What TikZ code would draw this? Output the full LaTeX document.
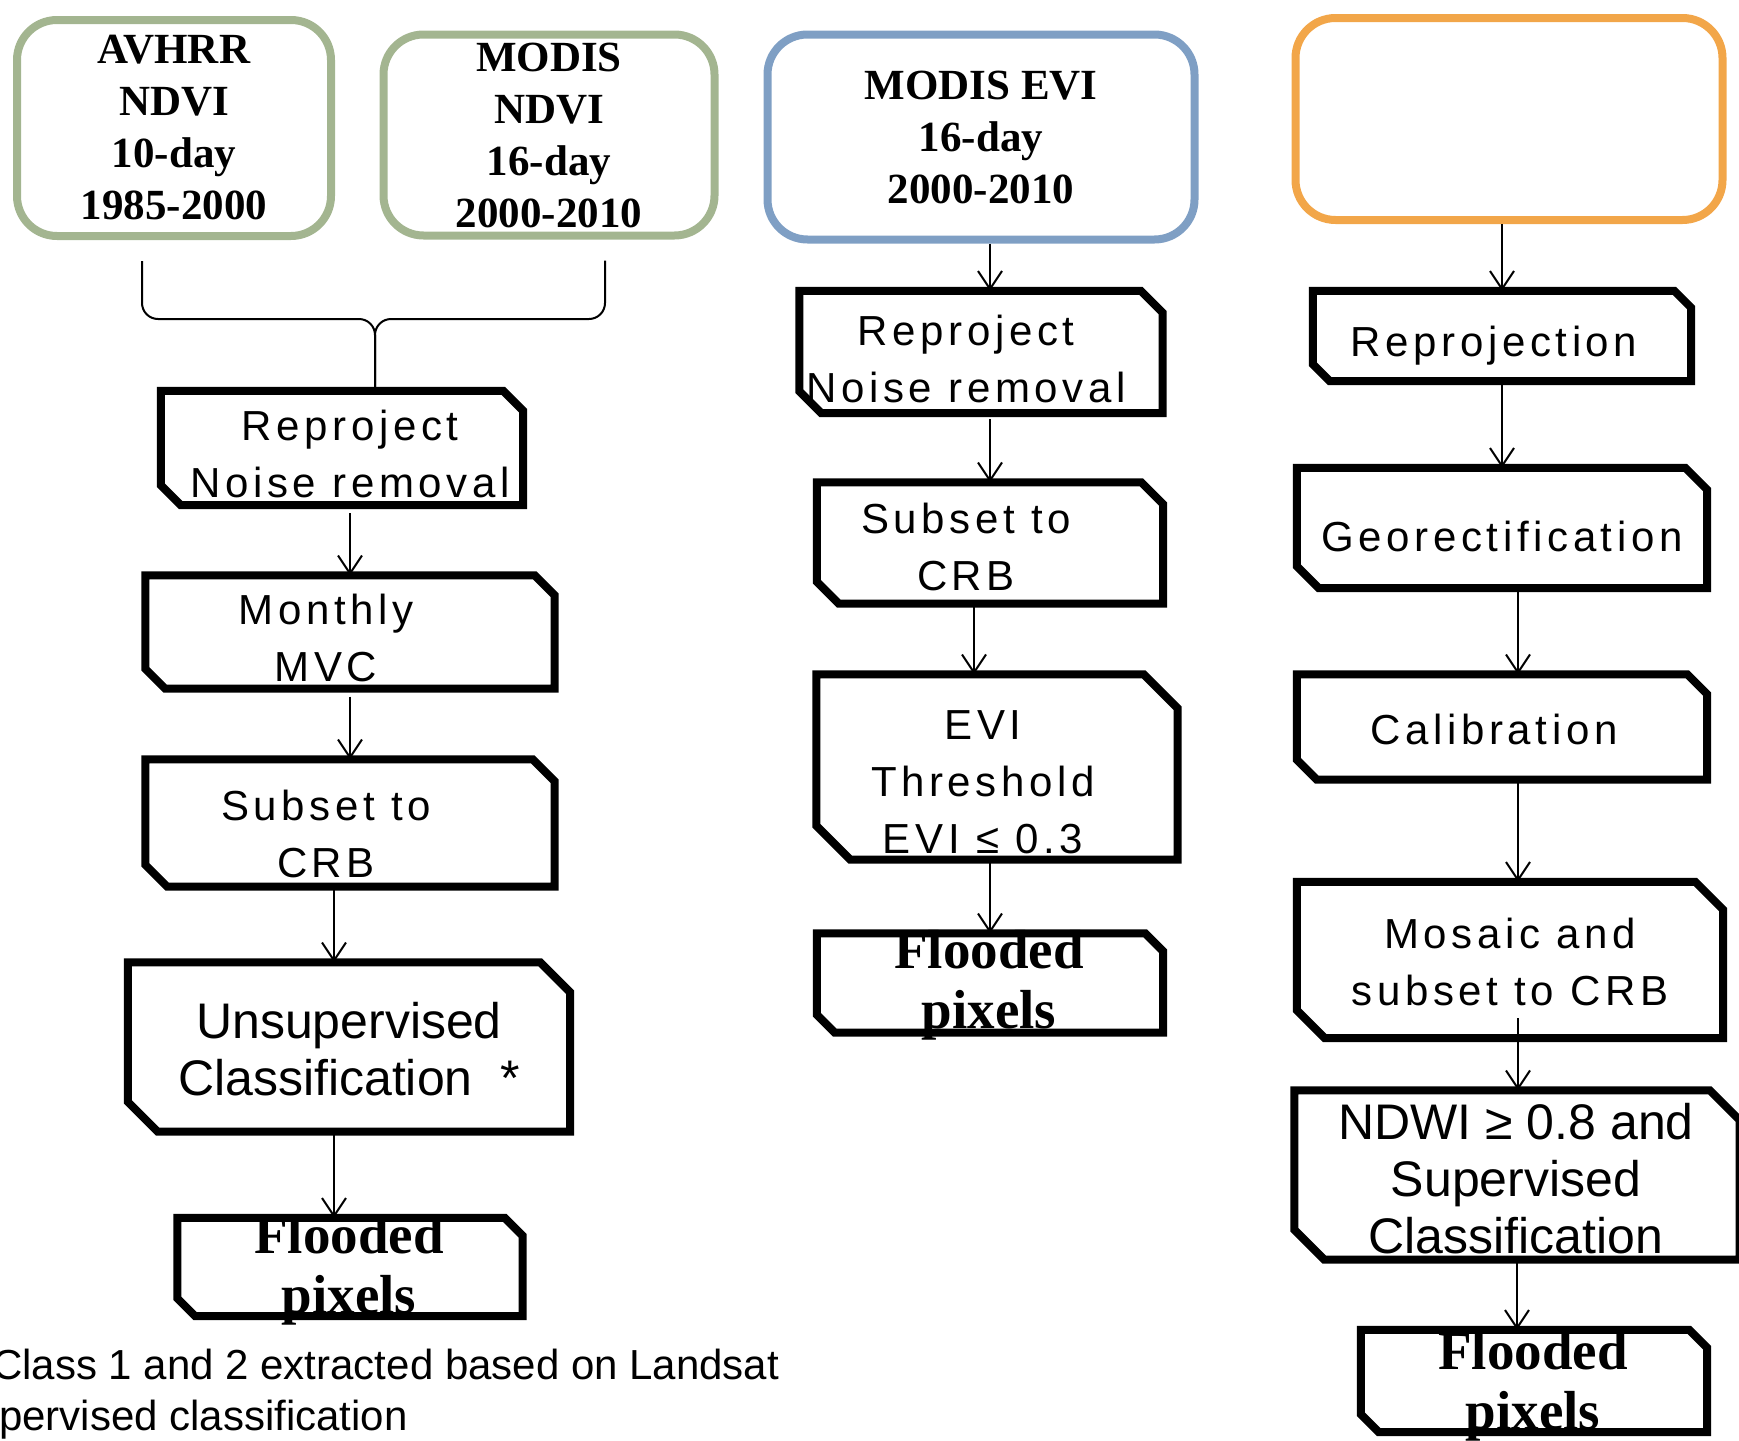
\documentclass[tikz,border=0pt]{standalone}
\usepackage{fontspec}
\usetikzlibrary{arrows.meta}
\newfontfamily\procfont[LetterSpace=11]{Liberation Sans}
\newfontfamily\plainsans{Liberation Sans}
\newfontfamily\srcserif{Liberation Serif}
\definecolor{srcgreen}{RGB}{163,181,144}
\definecolor{srcblue}{RGB}{127,159,196}
\definecolor{srcorange}{RGB}{242,166,73}

\begin{document}
\begin{tikzpicture}[x=1pt,y=-1pt,
    src/.style={draw, line width=8pt, rounded corners=40pt, align=center,
        font=\srcserif\bfseries\fontsize{43}{52}\selectfont},
    proc/.style={rectangle, inner sep=0pt,
        append after command={\pgfextra{\let\boxnode=\tikzlastnode
            \draw[line width=8pt] (\boxnode.north west) -- ([xshift=-#1pt]\boxnode.north east)
              -- ([yshift=-#1pt]\boxnode.north east) -- (\boxnode.south east)
              -- ([xshift=#1pt]\boxnode.south west) -- ([yshift=#1pt]\boxnode.south west) -- cycle;}}},
    proc/.default=20,
    txt/.style={inner sep=0pt, align=center, font=\procfont\fontsize{42}{57}\selectfont},
    big/.style={font=\plainsans\fontsize{50}{57}\selectfont},
    result/.style={font=\srcserif\bfseries\fontsize{55}{60}\selectfont},
    note/.style={inner sep=0pt, anchor=north west, font=\plainsans\fontsize{42}{51}\selectfont},
    flow/.style={line width=2pt, -{Straight Barb[length=18pt,width=24pt]}},
    link/.style={line width=2pt, rounded corners=16pt}]
    \clip (0,0) rectangle (1739,1440);

    % source data sets
    \node[src, draw=srcgreen, minimum width=314pt, minimum height=216pt] (avhrr) at (174,128) {AVHRR\\NDVI\\10-day\\1985-2000};
    \node[src, draw=srcgreen, minimum width=331pt, minimum height=201pt] (ndvi) at (549,135) {MODIS\\NDVI\\16-day\\2000-2010};
    \node[src, draw=srcblue, minimum width=427pt, minimum height=205pt] (evi) at (981,137) {MODIS EVI\\16-day\\2000-2010};
    \node[src, draw=srcorange, minimum width=427pt, minimum height=202pt] (landsat) at (1509,119) {};

    % NDVI chain
    \node[proc, minimum width=362pt, minimum height=114pt] (l1) at (342,448) {};
    \node[proc, minimum width=409pt, minimum height=113pt] (l2) at (350,632) {};
    \node[proc=22, minimum width=409pt, minimum height=127pt] (l3) at (350,823) {};
    \node[proc=30, minimum width=442pt, minimum height=169pt] (l4) at (349,1047) {};
    \node[proc=18, minimum width=345pt, minimum height=98pt] (l5) at (350,1267) {};
    \node[txt] (l1txt) at (350,454) {Reproject\\Noise removal};
    \node[txt] (l2txt) at (326,638) {Monthly\\MVC};
    \node[txt] (l3txt) at (326,834) {Subset to\\CRB};
    \node[txt, big] (l4txt) at (349,1049) {Unsupervised\\Classification \ *};
    \node[txt, result] (l5txt) at (349,1270) {Flooded\\pixels};

    % EVI chain
    \node[proc=22, minimum width=363pt, minimum height=122pt] (m1) at (981,352) {};
    \node[proc=22, minimum width=346pt, minimum height=121pt] (m2) at (990,543) {};
    \node[proc=34, minimum width=361pt, minimum height=185pt] (m3) at (997,767) {};
    \node[proc=18, minimum width=346pt, minimum height=99pt] (m4) at (990,983) {};
    \node[txt] (m1txt) at (966,359) {Reproject\\Noise removal};
    \node[txt] (m2txt) at (966,547) {Subset to\\CRB};
    \node[txt] (m3txt) at (983,782) {EVI\\Threshold\\EVI ≤ 0.3};
    \node[txt, result] (m4txt) at (989,985) {Flooded\\pixels};

    % Landsat chain
    \node[proc=17, minimum width=378pt, minimum height=90pt] (r1) at (1502,336) {};
    \node[proc=22, minimum width=410pt, minimum height=120pt] (r2) at (1502,528) {};
    \node[proc, minimum width=410pt, minimum height=105pt] (r3) at (1502,727) {};
    \node[proc=28, minimum width=426pt, minimum height=156pt] (r4) at (1510,960) {};
    \node[proc=30, minimum width=445pt, minimum height=169pt] (r5) at (1517,1175) {};
    \node[proc=18, minimum width=346pt, minimum height=102pt] (r6) at (1534,1381) {};
    \node[txt] (r1txt) at (1494,346) {Reprojection};
    \node[txt] (r2txt) at (1502,536) {Georectification};
    \node[txt] (r3txt) at (1494,729) {Calibration};
    \node[txt] (r4txt) at (1510,962) {Mosaic and\\subset to CRB};
    \node[txt, big] (r5txt) at (1516,1179) {NDWI ≥ 0.8 and\\Supervised\\Classification};
    \node[txt, result] (r6txt) at (1533,1386) {Flooded\\pixels};

    \node[note] (foot1) at (-8,1349) {Class 1 and 2 extracted based on Landsat};
    \node[note] (foot2) at (-1,1400) {pervised classification};

    % brace joining the two NDVI sets
    \coordinate (knot) at (375,319);
    \draw[link] ([xshift=-32pt,yshift=-21pt]avhrr.south) |- (knot) -- (knot |- l1.north);
    \draw[link] ([xshift=56pt,yshift=-21pt]ndvi.south) |- (knot) -- (knot |- l1.north);

    \draw[flow, shorten <=8pt] (l1.south -| l2) -- (l2.north);
    \draw[flow, shorten <=8pt] (l2.south) -- (l3.north);
    \draw[flow] ([xshift=-16pt]l3.south) -- ([xshift=-16pt]l3.south |- l4.north);
    \draw[flow] ([xshift=-15pt]l4.south) -- ([xshift=-15pt]l4.south |- l5.north);

    \draw[flow] (evi.south -| m2) -- (m1.north -| m2);
    \draw[flow, shorten <=6pt] (m1.south -| m2) -- (m2.north);
    \draw[flow] ([xshift=-16pt]m2.south) -- ([xshift=-16pt]m2.south |- m3.north);
    \draw[flow] (m3.south -| m4) -- (m4.north);

    \draw[flow] (landsat.south -| r1) -- (r1.north);
    \draw[flow] (r1.south) -- (r2.north);
    \draw[flow] ([xshift=16pt]r2.south) -- ([xshift=16pt]r2.south |- r3.north);
    \draw[flow] ([xshift=16pt]r3.south) -- ([xshift=16pt]r3.south |- r4.north);
    \draw[flow] ([xshift=8pt,yshift=20pt]r4.south) -- ([xshift=8pt]r4.south |- r5.north);
    \draw[flow] (r5.south) -- (r5.south |- r6.north);
\end{tikzpicture}
\end{document}
